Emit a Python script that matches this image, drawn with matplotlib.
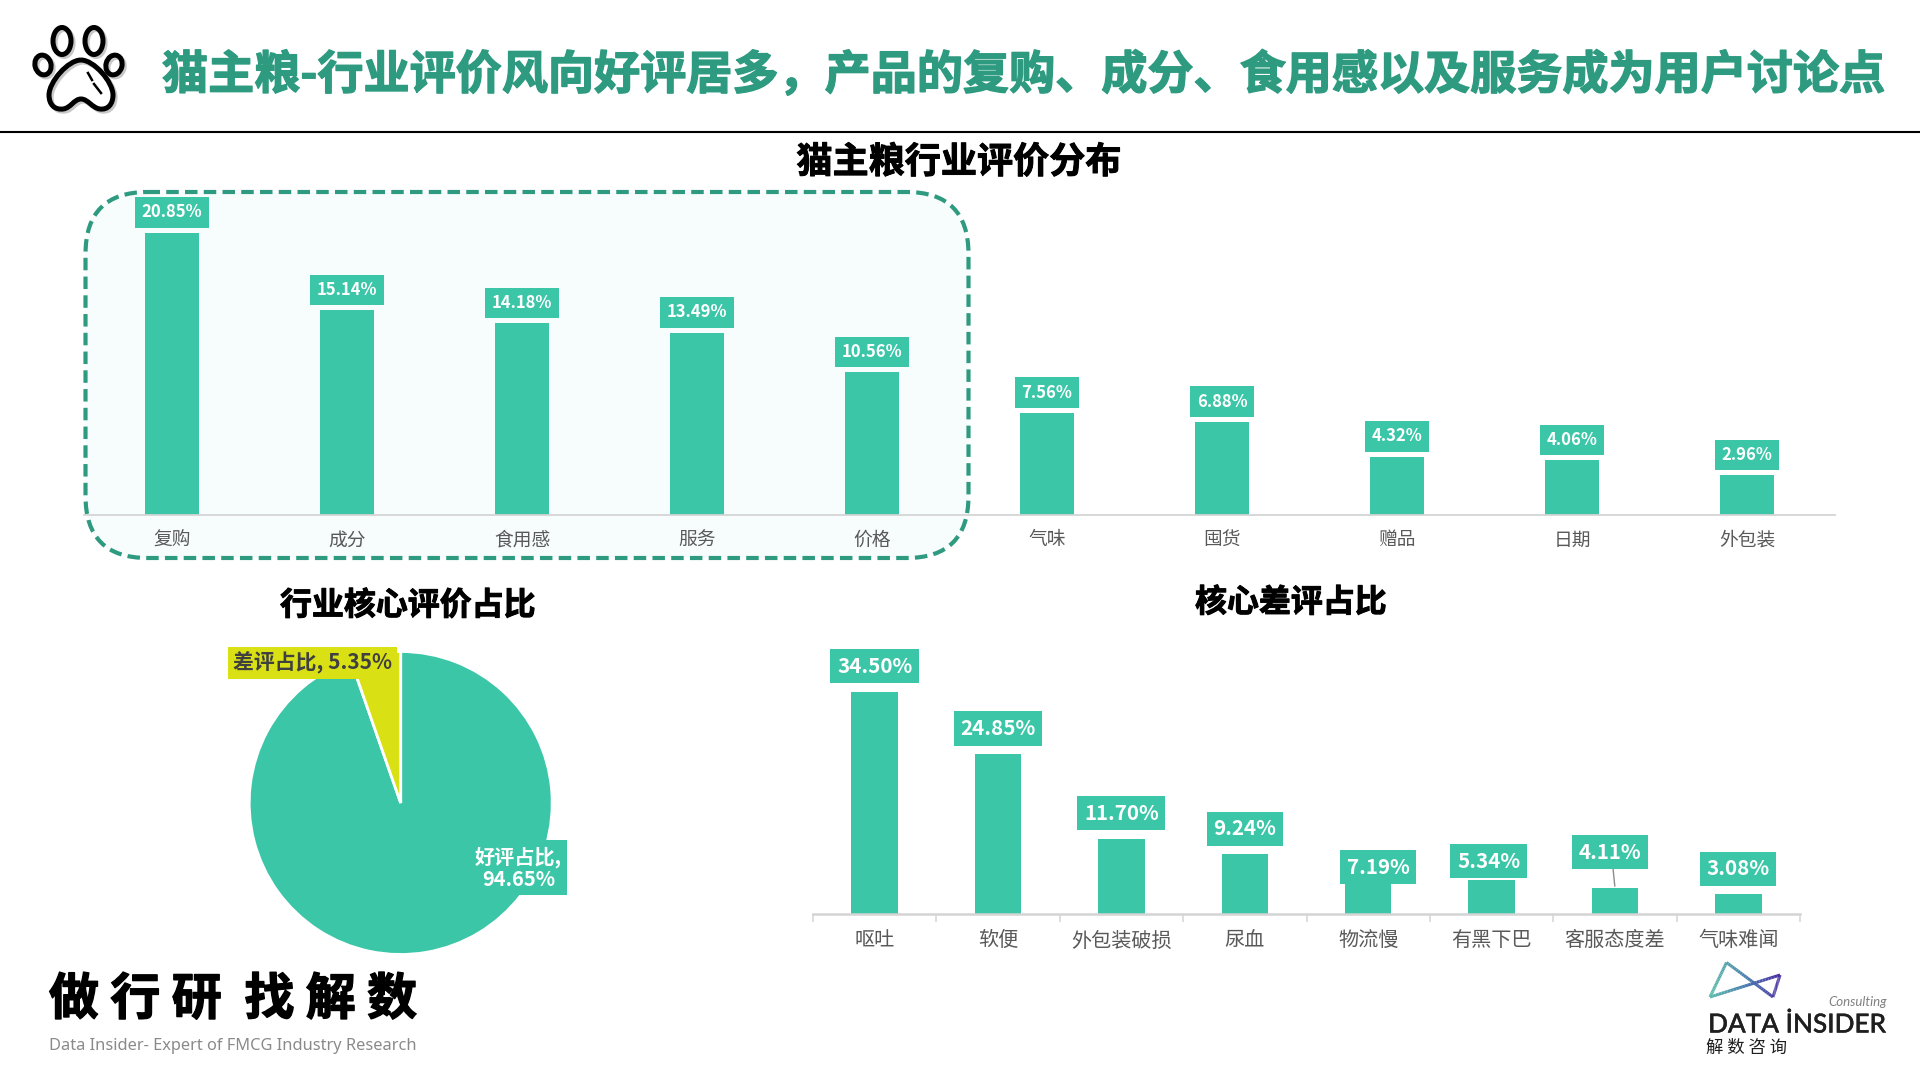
"""Cat staple food review breakdown, one slide, laid out in slide pixels."""

import matplotlib
matplotlib.use("Agg")
import matplotlib.pyplot as plt
import matplotlib.patheffects as pe
import numpy as np
from matplotlib.collections import LineCollection
from matplotlib.colors import LinearSegmentedColormap
from matplotlib.patches import Ellipse, FancyBboxPatch, PathPatch
from matplotlib.path import Path

plt.rcParams["font.family"] = ["Noto Sans CJK SC", "DejaVu Sans"]

W, H = 1920, 1080
GREEN = "#3CC6A8"
DARK_GREEN = "#2E9B80"
YELLOW = "#D9E014"
GREY_TEXT = "#595959"
AXIS_GREY = "#D4D4D4"

TITLE = "猫主粮-行业评价风向好评居多，产品的复购、成分、食用感以及服务成为用户讨论点"

topic_names = ["复购", "成分", "食用感", "服务", "价格", "气味", "囤货", "赠品", "日期", "外包装"]
topic_values = [20.85, 15.14, 14.18, 13.49, 10.56, 7.56, 6.88, 4.32, 4.06, 2.96]

pie_names = ["好评占比", "差评占比"]
pie_values = [94.65, 5.35]

complaint_names = ["呕吐", "软便", "外包装破损", "尿血", "物流慢", "有黑下巴", "客服态度差", "气味难闻"]
complaint_values = [34.50, 24.85, 11.70, 9.24, 7.19, 5.34, 4.11, 3.08]

# label nudges in slide pixels, (dx, distance above bar top)
complaint_label_pos = {"物流慢": (10, 0.5), "有黑下巴": (-3, 18.5), "客服态度差": (-5, 35.5)}


def px_axes(fig, left, top, right, bottom, **kw):
    return fig.add_axes([left / W, 1 - bottom / H, (right - left) / W, (bottom - top) / H], **kw)


def pt(px):
    return px * 72 / 100


def heavy(color, width=0.7):
    # the slide's headings are a touch blacker than Noto Bold
    return [pe.withStroke(linewidth=width, foreground=color)]


def bar_chart(ax, names, values, px_per_unit, height, bar_width, size, tick_pad, spine_px):
    x = np.arange(len(names))
    ax.patch.set_alpha(0)
    ax.bar(x, values, width=bar_width, color=GREEN)
    ax.set_xlim(-0.5, len(names) - 0.5)
    ax.set_ylim(0, height / px_per_unit)
    ax.set_yticks([])
    # baseline alignment keeps the CJK labels on one line
    ax.set_xticks(x, names, fontsize=size, color=GREY_TEXT, va="baseline")
    ax.tick_params(axis="x", length=0, pad=tick_pad)
    for side in ("top", "left", "right"):
        ax.spines[side].set_visible(False)
    ax.spines["bottom"].set_color(AXIS_GREY)
    ax.spines["bottom"].set_linewidth(pt(spine_px))
    return x


def value_label(ax, x, value, dx, dy, size, pad):
    ax.annotate(f"{value:.2f}%", (x, value), xytext=(pt(dx), pt(dy)), textcoords="offset points",
                ha="center", va="center", color="white", fontsize=size, fontweight="bold",
                bbox=dict(boxstyle=f"square,pad={pad}", fc=GREEN, ec="none"), zorder=5,
                annotation_clip=False)


def draw_paw(ax):
    shadow = [pe.SimpleLineShadow(offset=(1.5, -1.5), shadow_color="#777777", alpha=0.4), pe.Normal()]
    for cx, cy, w, h, ang in [(43, 65, 16, 20, -15), (62, 41, 18, 27, 0), (94, 41, 18, 27, 0), (114, 65, 16, 20, 15)]:
        ax.add_patch(Ellipse((cx, cy), w, h, angle=ang, fc="none", ec="black", lw=3.6, path_effects=shadow))
    verts = [(81, 60), (68, 60), (49, 82), (49, 95), (49, 105), (55, 110), (63, 109),
             (71, 108), (74, 99), (81, 99), (88, 99), (92, 108), (100, 109),
             (108, 110), (113, 104), (113, 95), (113, 82), (94, 60), (81, 60)]
    codes = [Path.MOVETO] + [Path.CURVE4] * 18
    ax.add_patch(PathPatch(Path(verts, codes), fc="none", ec="black", lw=3.6, path_effects=shadow))
    ax.plot([88, 92], [73, 80], color="black", lw=1.8)
    ax.plot([94, 101], [84, 93], color="black", lw=1.8)


def draw_insider_logo(ax):
    pts = np.array([(1710, 997), (1726.5, 962.5), (1773, 997), (1780, 975), (1710, 997)], dtype=float)
    cmap = LinearSegmentedColormap.from_list("logo", ["#5DBDAE", "#4A7FB0", "#4B2FA0"])
    segs, cols = [], []
    for a, b in zip(pts[:-1], pts[1:]):
        steps = np.linspace(0, 1, 25)[:, None]
        line = a + (b - a) * steps
        segs += [line[i:i + 2] for i in range(len(line) - 1)]
        cols += [cmap((p[0] - 1710) / 70) for p in line[:-1]]
    ax.add_collection(LineCollection(segs, colors=cols, linewidths=2.2))
    ax.text(1797, 1025, "DATA İNSIDER", family="Lato", fontsize=18.8, color="#1F1F1F",
            ha="center", va="center", fontweight="medium", path_effects=heavy("#1F1F1F", 0.3))
    ax.text(1858, 1002, "Consulting", family="Lato", style="italic", fontsize=9.5,
            color="#808080", ha="center", va="center")
    ax.text(1747, 1048, "解 数 咨 询", fontsize=12.5, color="#1F1F1F", ha="center", va="center")


fig = plt.figure(figsize=(W / 100, H / 100), dpi=100, facecolor="white")

# slide furniture, coordinates are slide pixels
bg = fig.add_axes([0, 0, 1, 1], zorder=0)
bg.set_xlim(0, W)
bg.set_ylim(H, 0)
bg.axis("off")
draw_paw(bg)
bg.text(162, 75, TITLE, fontsize=33.2, fontweight="bold", color=DARK_GREEN, ha="left", va="center",
        path_effects=heavy(DARK_GREEN, 1.0))
bg.plot([0, W], [132, 132], color="black", lw=1.5)
bg.add_patch(FancyBboxPatch((85.5, 192), 883, 366, boxstyle="round,pad=0,rounding_size=62",
                            fc="#F7FCFC", ec=DARK_GREEN, lw=3, linestyle=(0, (3.0, 1.5))))
for text, x, y, size in [("猫主粮行业评价分布", 959, 162.5, 26),
                         ("行业核心评价占比", 408, 606, 23),
                         ("核心差评占比", 1291, 603, 23)]:
    bg.text(x, y, text, fontsize=size, fontweight="bold", color="black", ha="center", va="center",
            path_effects=heavy("black"))
bg.text(49, 1000, "做 行 研  找 解 数", fontsize=36, fontweight="bold", color="black", ha="left", va="center",
        path_effects=heavy("black", 1.0))
bg.text(49, 1046, "Data Insider- Expert of FMCG Industry Research", fontsize=11.8, fontweight="light",
        color="#8A8A8A", ha="left", va="center", family=["Noto Sans", "DejaVu Sans"])
draw_insider_logo(bg)

# top bars
ax_top = px_axes(fig, 84.5, 200, 1834.5, 515.5, zorder=1)
x_top = bar_chart(ax_top, topic_names, topic_values, 13.55, 315.5, 0.31, 13.5, 21.6, 1.8)
for xi, v in zip(x_top, topic_values):
    value_label(ax_top, xi, v, 0, 20.5, 12, 0.38)

# pie, starts at twelve o'clock and runs clockwise
ax_pie = px_axes(fig, 400.7 - 180, 803 - 180, 400.7 + 180, 803 + 180, zorder=1)
ax_pie.pie(pie_values, colors=[GREEN, YELLOW], startangle=90, counterclock=False,
           radius=1.01, wedgeprops=dict(ec="white", lw=2))
ax_pie.set_xlim(-1.2, 1.2)
ax_pie.set_ylim(-1.2, 1.2)
ax_pie.text(0.785, -0.435, f"{pie_names[0]},\n{pie_values[0]:.2f}%", color="white", fontsize=14.5,
            fontweight="bold", ha="center", va="center", linespacing=1.1,
            bbox=dict(boxstyle="square,pad=0.25", fc=GREEN, ec="none"), zorder=5)
ax_pie.text(-0.588, 0.935, f"{pie_names[1]}, {pie_values[1]:.2f}%", color="#404040", fontsize=15,
            fontweight="bold", ha="center", va="center",
            bbox=dict(boxstyle="square,pad=0.22", fc=YELLOW, ec="none"), zorder=5)

# bottom bars, ticks sit between categories
ax_bot = px_axes(fig, 813, 640, 1800, 914, zorder=1)
x_bot = bar_chart(ax_bot, complaint_names, complaint_values, 6.44, 274, 0.377, 14.5, 23.3, 2.5)
ax_bot.set_xticks(np.arange(-0.5, len(complaint_names)), minor=True)
ax_bot.tick_params(axis="x", which="minor", length=pt(8), width=pt(1.5), color=AXIS_GREY)
for name, xi, v in zip(complaint_names, x_bot, complaint_values):
    dx, dy = complaint_label_pos.get(name, (0, 25.5))
    value_label(ax_bot, xi, v, dx, dy, 14.8, 0.32)
    if name == "客服态度差":
        ax_bot.annotate("", (xi, v), xytext=(pt(-2), pt(20)), textcoords="offset points",
                        arrowprops=dict(arrowstyle="-", color="#8C8C8C", lw=1, shrinkA=0, shrinkB=1),
                        zorder=4)

fig.savefig("out.png", dpi=100)
